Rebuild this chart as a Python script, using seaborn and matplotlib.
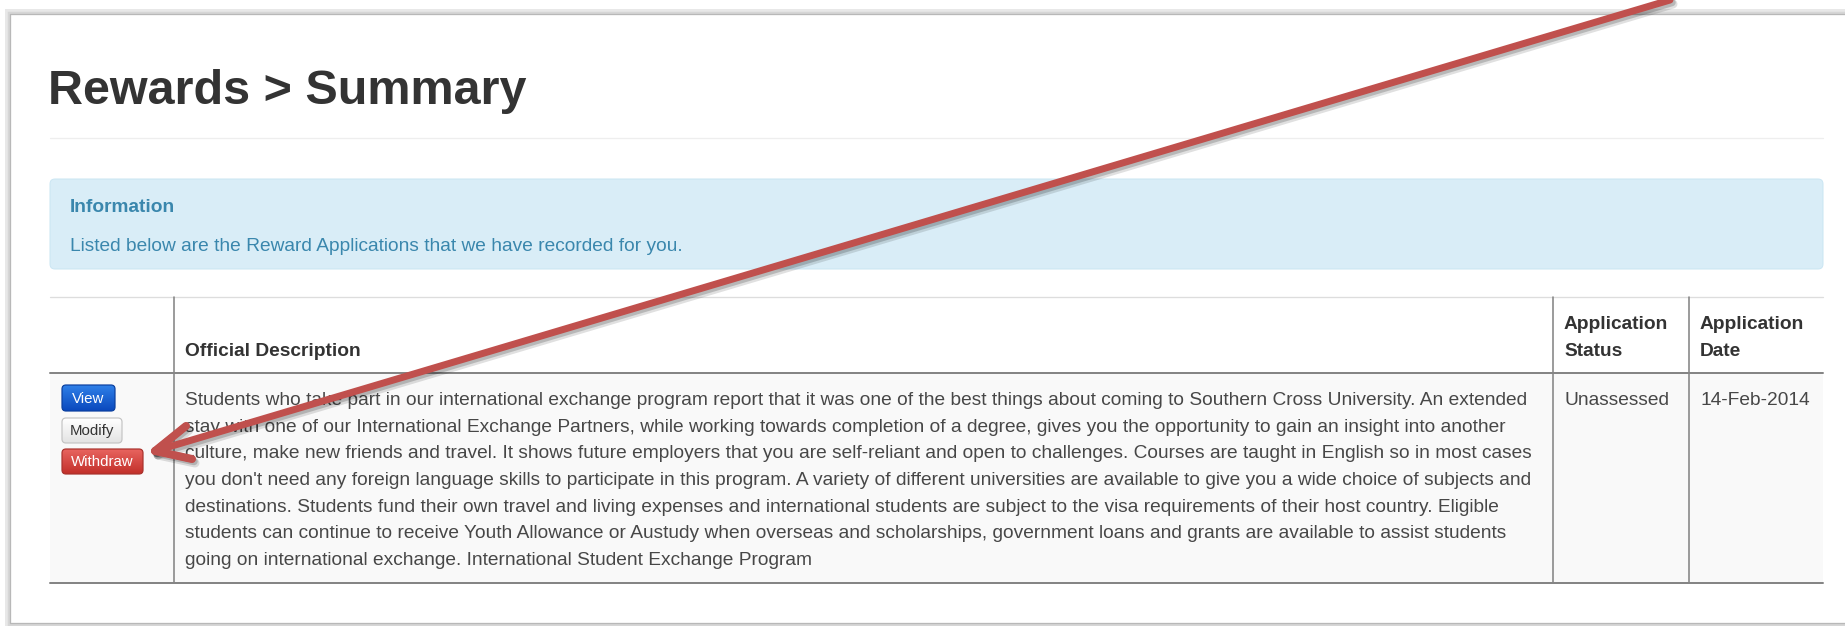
"""Rewards > Summary page mock-up, drawn with seaborn/matplotlib."""

import matplotlib.pyplot as plt
import numpy as np
import seaborn as sns
from matplotlib.colors import LinearSegmentedColormap
from matplotlib.patches import FancyBboxPatch, Rectangle

sns.set_theme(style="white", context="notebook")
plt.rcParams["font.family"] = ["Liberation Sans", "DejaVu Sans"]

# ---- page content -------------------------------------------------------
TITLE = "Rewards > Summary"
INFO_HEADING = "Information"
INFO_TEXT = "Listed below are the Reward Applications that we have recorded for you."
COLUMN_HEADERS = ["", "Official Description", "Application\nStatus", "Application\nDate"]
BUTTON_LABELS = ["View", "Modify", "Withdraw"]
DESCRIPTION_LINES = [
    "Students who take part in our international exchange program report that it was one of the best things about coming to Southern Cross University. An extended",
    "stay with one of our International Exchange Partners, while working towards completion of a degree, gives you the opportunity to gain an insight into another",
    "culture, make new friends and travel. It shows future employers that you are self-reliant and open to challenges. Courses are taught in English so in most cases",
    "you don't need any foreign language skills to participate in this program. A variety of different universities are available to give you a wide choice of subjects and",
    "destinations. Students fund their own travel and living expenses and international students are subject to the visa requirements of their host country. Eligible",
    "students can continue to receive Youth Allowance or Austudy when overseas and scholarships, government loans and grants are available to assist students",
    "going on international exchange. International Student Exchange Program",
]
STATUS = "Unassessed"
APP_DATE = "14-Feb-2014"

# ---- layout (pixels) ----------------------------------------------------
W, H = 1845, 626
PX = 0.72  # pt per px at dpi 100
LEFT, RIGHT = 50, 1823
COL_X = [50, 174, 1553, 1689, 1823]
LINE_H = 26.67
BODY_PX = 19.1

TEXT_DARK = "#333333"
BODY_COLOR = "#474747"
INFO_COLOR = "#3a87ad"
ARROW_RED = "#c0504d"

fig = plt.figure(figsize=(W / 100, H / 100), dpi=100)
ax = fig.add_axes([0, 0, 1, 1])
ax.axis("off")

# card frame with soft shadow
for off, col, lw in [(3, "#e8e8e8", 5), (1.5, "#d6d6d6", 2.5)]:
    ax.plot([W + 5, 10 - off, 10 - off, W + 5], [14 - off, 14 - off, 623 + off, 623 + off],
            color=col, lw=lw * PX, solid_joinstyle="miter")
ax.plot([W + 5, 10, 10, W + 5], [14, 14, 623, 623], color="#b8b8b8", lw=1.3 * PX)

# title and rule
ax.text(48, 104, TITLE, fontsize=48.5 * PX, fontweight="bold", color=TEXT_DARK, va="baseline")
ax.plot([LEFT, RIGHT], [138, 138], color="#eeeeee", lw=1.3 * PX)

# information alert
ax.add_patch(FancyBboxPatch((LEFT, 179), RIGHT - LEFT, 90, boxstyle="round,pad=0,rounding_size=5",
                            facecolor="#d9edf7", edgecolor="#cbe6f3", lw=1 * PX))
ax.text(70, 212, INFO_HEADING, fontsize=BODY_PX * PX, fontweight="bold", color=INFO_COLOR, va="baseline")
ax.text(70, 251, INFO_TEXT, fontsize=BODY_PX * PX, color=INFO_COLOR, va="baseline")

# table
ax.add_patch(Rectangle((LEFT, 373), RIGHT - LEFT, 210, facecolor="#f9f9f9", edgecolor="none"))
ax.plot([LEFT, RIGHT], [297, 297], color="#dddddd", lw=1.3 * PX)
ax.plot([LEFT, RIGHT], [373, 373], color="#858585", lw=2 * PX)
ax.plot([LEFT, RIGHT], [583, 583], color="#858585", lw=2 * PX)
for x in COL_X[1:-1]:
    ax.plot([x, x], [297, 583], color="#858585", lw=1.6 * PX)

for i, header in enumerate(COLUMN_HEADERS):
    lines = header.split("\n") if header else []
    base = 356 - LINE_H * (len(lines) - 1)
    for j, line in enumerate(lines):
        ax.text(COL_X[i] + 11, base + j * LINE_H, line, fontsize=BODY_PX * PX,
                fontweight="bold", color=TEXT_DARK, va="baseline")

for k, line in enumerate(DESCRIPTION_LINES):
    ax.text(COL_X[1] + 11, 405 + k * LINE_H, line, fontsize=BODY_PX * PX, color=BODY_COLOR, va="baseline")
ax.text(COL_X[2] + 11, 405, STATUS, fontsize=BODY_PX * PX, color=BODY_COLOR, va="baseline")
ax.text(COL_X[3] + 11, 405, APP_DATE, fontsize=BODY_PX * PX, color=BODY_COLOR, va="baseline")

# action buttons with vertical gradients
BUTTON_STYLE = {
    "View": ((62, 385, 53, 26), ("#2f80e8", "#0a48bd"), "#0a3f9e", "white"),
    "Modify": ((62, 418, 60, 25), ("#ffffff", "#e3e3e3"), "#c4c4c4", TEXT_DARK),
    "Withdraw": ((62, 449, 81, 25), ("#e8645f", "#c2302a"), "#a9322d", "white"),
}
grad = np.linspace(0, 1, 64).reshape(-1, 1)
for label in BUTTON_LABELS:
    (bx, by, bw, bh), (top, bottom), edge, tcol = BUTTON_STYLE[label]
    patch = FancyBboxPatch((bx, by), bw, bh, boxstyle="round,pad=0,rounding_size=4",
                           facecolor="none", edgecolor=edge, lw=1.2 * PX, zorder=3)
    ax.add_patch(patch)
    cmap = LinearSegmentedColormap.from_list(label, [top, bottom])
    im = ax.imshow(grad, extent=(bx, bx + bw, by + bh, by), cmap=cmap, aspect="auto",
                   origin="upper", zorder=2, interpolation="bilinear")
    im.set_clip_path(patch)
    ax.text(bx + bw / 2, by + bh / 2 + 1, label, fontsize=15 * PX, color=tcol,
            ha="center", va="center", zorder=4)

# callout arrow pointing at the Withdraw button
tip = (155, 451)
tail = (1670, 0)
wings = [(186, 426), (192, 459)]
segments = [(tail, tip)] + [(w, tip) for w in wings]
for dx, dy, lw, alpha in [(3, 4, 9, 0.12), (2, 2.5, 7.5, 0.18)]:
    for (x0, y0), (x1, y1) in segments:
        ax.plot([x0 + dx, x1 + dx], [y0 + dy, y1 + dy], color="black", alpha=alpha,
                lw=lw * PX, solid_capstyle="round", zorder=5)
for (x0, y0), (x1, y1) in segments:
    ax.plot([x0, x1], [y0, y1], color=ARROW_RED, lw=7 * PX, solid_capstyle="round", zorder=6)
for w in wings:
    ax.plot([w[0], tip[0]], [w[1], tip[1]], color=ARROW_RED, lw=8 * PX, solid_capstyle="round", zorder=6)

ax.set_xlim(0, W)
ax.set_ylim(H, 0)
fig.savefig("out.png", dpi=100, facecolor="white")
